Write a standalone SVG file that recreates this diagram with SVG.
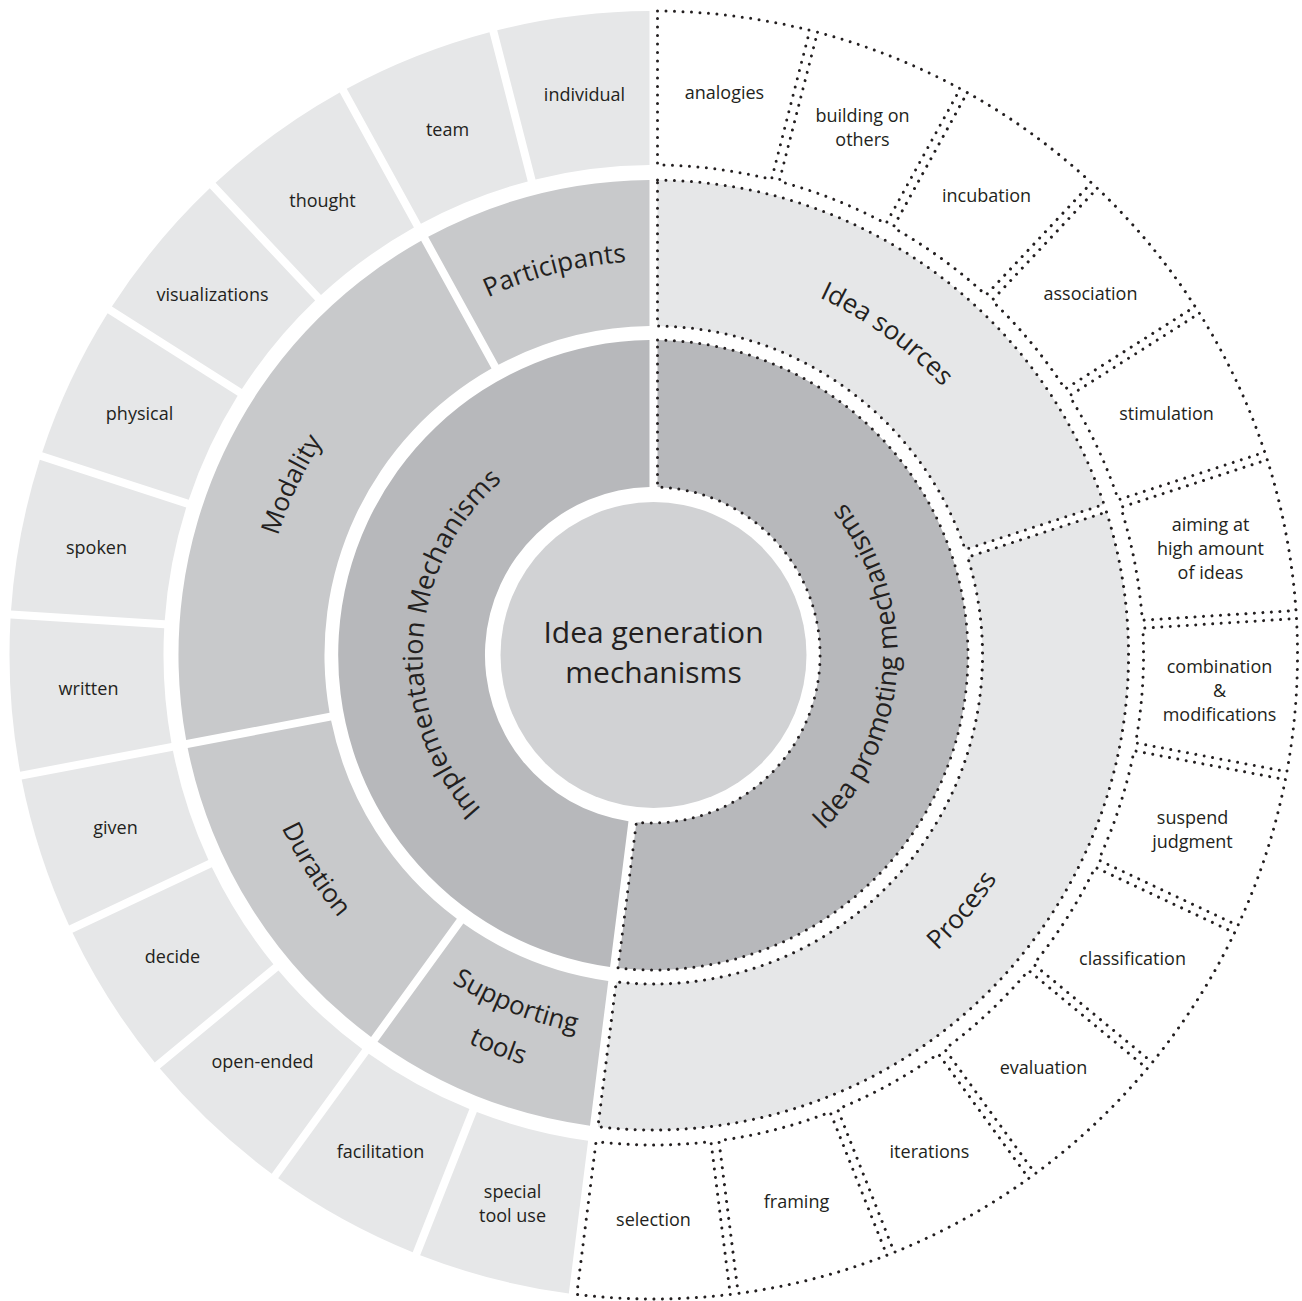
<svg xmlns="http://www.w3.org/2000/svg" width="1302" height="1301" viewBox="0 0 1302 1301">
<style>
.t{font-family:"Open Sans","Liberation Sans",sans-serif;fill:#231f20}
.leaf{font-size:18px;text-anchor:middle}
.ring{font-size:26px}
.core{font-size:27px}
.ctr{font-size:30px;text-anchor:middle}
.gL3{fill:#e6e7e8}
.gL2{fill:#c8c9cb}
.g1{fill:#b7b8bb}
.gR2{fill:#e6e7e8}
.gR3{fill:#ffffff}
.dot{stroke:#231f20;stroke-width:3;stroke-dasharray:0 8.5;stroke-linecap:round}
</style>
<defs>
<path id="leaf" d="M4,-644 A644,644 0 0 1 156.28,-624.76 L117.98,-475.6 A490,490 0 0 0 4,-490 Z"/>
<path id="r2a" d="M4,-475 A475,475 0 0 1 225.33,-418.17 L154.99,-290.24 A329,329 0 0 0 4,-329 Z"/>
<path id="r2b" d="M4,-475 A475,475 0 0 1 322.24,-349 L222.29,-242.57 A329,329 0 0 0 4,-329 Z"/>
<path id="r2c" d="M4,-475 A475,475 0 0 1 450.52,-150.59 L311.67,-105.47 A329,329 0 0 0 4,-329 Z"/>
<path id="r2d" d="M4,-475 A475,475 0 0 1 431.5,198.62 L299.39,136.46 A329,329 0 0 0 4,-329 Z"/>
<path id="r1L" d="M4,-315 A315,315 0 0 1 43.45,312.01 L25.03,166.17 A168,168 0 0 0 4,-168 Z"/>
<path id="r1R" d="M4,-315 A315,315 0 1 1 -35.51,313.02 L-17.09,167.18 A168,168 0 1 0 4,-168 Z"/>
<path id="pImpl" d="M-34.54,228.4 A231,231 0 0 1 -5.64,-230.93"/>
<path id="pProm" d="M5.96,243.93 A244,244 0 0 0 36.49,-241.26"/>
<path id="pSrc" d="M-297.36,-258.49 A394,394 0 0 1 337.72,202.93"/>
<path id="pProc" d="M-232.81,337.49 A410,410 0 0 0 287.88,-291.93"/>
<path id="pSup1" d="M-368.95,-109.99 A385,385 0 0 0 344.25,172.39"/>
<path id="pSup2" d="M-412.08,-122.85 A430,430 0 0 0 384.48,192.54"/>
<path id="pDur" d="M-249.03,-325.71 A410,410 0 0 0 188.68,364.01"/>
<path id="pMod" d="M-198.19,340.52 A394,394 0 0 1 136.05,-369.77"/>
<path id="pPart" d="M-388.71,64.35 A394,394 0 0 1 371.63,-130.87"/>
</defs>
<rect width="1302" height="1301" fill="#ffffff"/>
<g transform="translate(653.5 655)">
<g id="connectors"></g>
<g id="center">
<circle r="153" fill="#d1d2d4"/>
<text class="t ctr" x="0" y="-12">Idea generation</text>
<text class="t ctr" x="0" y="28">mechanisms</text>
</g>
<g id="implementation-mechanisms">
<use href="#r1L" class="g1" transform="rotate(187.2)"/>
<text class="t core"><textPath href="#pImpl" startOffset="50%" text-anchor="middle">Implementation Mechanisms</textPath></text>
</g>
<g id="idea-promoting-mechanisms">
<use href="#r1R" class="g1 dot"/>
<text class="t core"><textPath href="#pProm" startOffset="50%" text-anchor="middle">Idea promoting mechanisms</textPath></text>
</g>
<g id="idea-sources">
<use href="#r2c" class="gR2 dot"/>
<text class="t ring"><textPath href="#pSrc" startOffset="50%" text-anchor="middle">Idea sources</textPath></text>
</g>
<g id="process">
<use href="#r2d" class="gR2 dot" transform="rotate(72)"/>
<text class="t ring"><textPath href="#pProc" startOffset="50%" text-anchor="middle">Process</textPath></text>
</g>
<g id="supporting-tools">
<use href="#r2a" class="gL2" transform="rotate(187.2)"/>
<text class="t ring"><textPath href="#pSup1" startOffset="50%" text-anchor="middle">Supporting</textPath></text>
<text class="t ring"><textPath href="#pSup2" startOffset="50%" text-anchor="middle">tools</textPath></text>
</g>
<g id="duration">
<use href="#r2b" class="gL2" transform="rotate(216)"/>
<text class="t ring"><textPath href="#pDur" startOffset="50%" text-anchor="middle">Duration</textPath></text>
</g>
<g id="modality">
<use href="#r2c" class="gL2" transform="rotate(259.2)"/>
<text class="t ring"><textPath href="#pMod" startOffset="50%" text-anchor="middle">Modality</textPath></text>
</g>
<g id="participants">
<use href="#r2a" class="gL2" transform="rotate(331.2)"/>
<text class="t ring"><textPath href="#pPart" startOffset="50%" text-anchor="middle">Participants</textPath></text>
</g>
<g id="analogies"><use href="#leaf" class="gR3 dot"/><text class="t leaf" x="71" y="-556.5">analogies</text></g>
<g id="building-on-others"><use href="#leaf" class="gR3 dot" transform="rotate(14.4)"/><text class="t leaf" x="209" y="-533">building on</text><text class="t leaf" x="209" y="-509">others</text></g>
<g id="incubation"><use href="#leaf" class="gR3 dot" transform="rotate(28.8)"/><text class="t leaf" x="333" y="-452.7">incubation</text></g>
<g id="association"><use href="#leaf" class="gR3 dot" transform="rotate(43.2)"/><text class="t leaf" x="437" y="-355.4">association</text></g>
<g id="stimulation"><use href="#leaf" class="gR3 dot" transform="rotate(57.6)"/><text class="t leaf" x="513" y="-235.4">stimulation</text></g>
<g id="aiming"><use href="#leaf" class="gR3 dot" transform="rotate(72)"/><text class="t leaf" x="557" y="-124.2">aiming at</text><text class="t leaf" x="557" y="-100.2">high amount</text><text class="t leaf" x="557" y="-76.2">of ideas</text></g>
<g id="combination"><use href="#leaf" class="gR3 dot" transform="rotate(86.4)"/><text class="t leaf" x="566" y="17.6">combination</text><text class="t leaf" x="566" y="41.6">&amp;</text><text class="t leaf" x="566" y="65.6">modifications</text></g>
<g id="suspend-judgment"><use href="#leaf" class="gR3 dot" transform="rotate(100.8)"/><text class="t leaf" x="539" y="169.2">suspend</text><text class="t leaf" x="539" y="193.2">judgment</text></g>
<g id="classification"><use href="#leaf" class="gR3 dot" transform="rotate(115.2)"/><text class="t leaf" x="479" y="309.8">classification</text></g>
<g id="evaluation"><use href="#leaf" class="gR3 dot" transform="rotate(129.6)"/><text class="t leaf" x="390" y="419.3">evaluation</text></g>
<g id="iterations"><use href="#leaf" class="gR3 dot" transform="rotate(144)"/><text class="t leaf" x="276" y="502.9">iterations</text></g>
<g id="framing"><use href="#leaf" class="gR3 dot" transform="rotate(158.4)"/><text class="t leaf" x="143" y="553.2">framing</text></g>
<g id="selection"><use href="#leaf" class="gR3 dot" transform="rotate(172.8)"/><text class="t leaf" x="0" y="571">selection</text></g>
<g id="special-tool-use"><use href="#leaf" class="gL3" transform="rotate(187.2)"/><text class="t leaf" x="-141" y="543.2">special</text><text class="t leaf" x="-141" y="567.2">tool use</text></g>
<g id="facilitation"><use href="#leaf" class="gL3" transform="rotate(201.6)"/><text class="t leaf" x="-273" y="502.9">facilitation</text></g>
<g id="open-ended"><use href="#leaf" class="gL3" transform="rotate(216)"/><text class="t leaf" x="-391" y="413.3">open-ended</text></g>
<g id="decide"><use href="#leaf" class="gL3" transform="rotate(230.4)"/><text class="t leaf" x="-481" y="307.8">decide</text></g>
<g id="given"><use href="#leaf" class="gL3" transform="rotate(244.8)"/><text class="t leaf" x="-538" y="179.2">given</text></g>
<g id="written"><use href="#leaf" class="gL3" transform="rotate(259.2)"/><text class="t leaf" x="-565" y="39.6">written</text></g>
<g id="spoken"><use href="#leaf" class="gL3" transform="rotate(273.6)"/><text class="t leaf" x="-557" y="-101.2">spoken</text></g>
<g id="physical"><use href="#leaf" class="gL3" transform="rotate(288)"/><text class="t leaf" x="-514" y="-235.4">physical</text></g>
<g id="visualizations"><use href="#leaf" class="gL3" transform="rotate(302.4)"/><text class="t leaf" x="-441" y="-354.4">visualizations</text></g>
<g id="thought"><use href="#leaf" class="gL3" transform="rotate(316.8)"/><text class="t leaf" x="-331" y="-447.7">thought</text></g>
<g id="team"><use href="#leaf" class="gL3" transform="rotate(331.2)"/><text class="t leaf" x="-206" y="-519.2">team</text></g>
<g id="individual"><use href="#leaf" class="gL3" transform="rotate(345.6)"/><text class="t leaf" x="-69" y="-554.5">individual</text></g>
</g>
</svg>
